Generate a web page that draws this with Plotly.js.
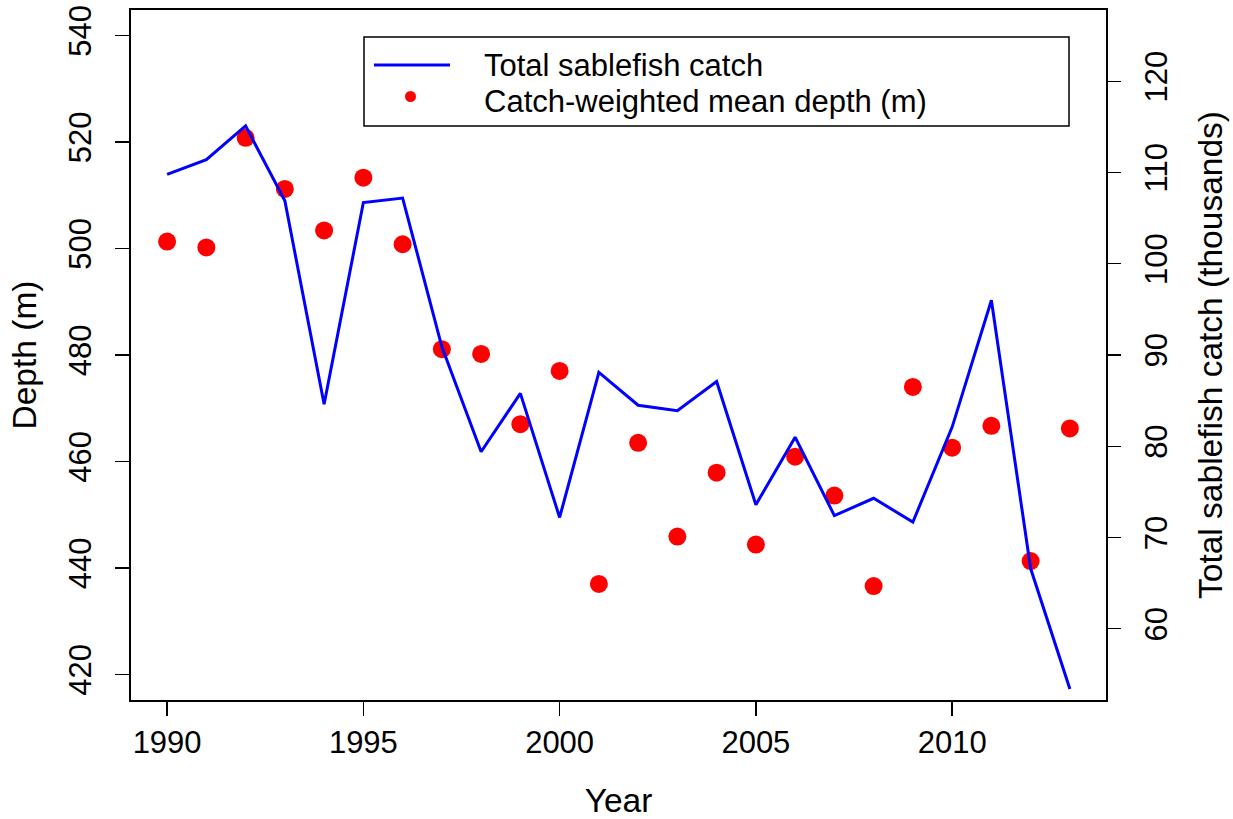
<!DOCTYPE html>
<html>
<head>
<meta charset="utf-8">
<script src="https://cdn.plot.ly/plotly-3.0.1.min.js"></script>
<style>
  html, body { margin: 0; padding: 0; background: #fff; }
  #chart { width: 1233px; height: 819px; }
</style>
</head>
<body>
<div id="chart"></div>
<script>
// Sablefish survey summary, 1990-2013
const years = [1990, 1991, 1992, 1993, 1994, 1995, 1996, 1997, 1998, 1999, 2000, 2001,
               2002, 2003, 2004, 2005, 2006, 2007, 2008, 2009, 2010, 2011, 2012, 2013];

// Catch-weighted mean depth (m), left axis
const meanDepth = [501.3, 500.2, 520.8, 511.2, 503.4, 513.3, 500.8, 481.1, 480.2, 467.0, 477.0, 437.0,
                   463.5, 445.9, 457.9, 444.4, 460.9, 453.6, 436.6, 474.0, 462.6, 466.7, 441.3, 466.2];

// Total sablefish catch (thousands), right axis
const totalCatch = [109.8, 111.4, 115.1, 106.9, 84.6, 106.7, 107.2, 90.9, 79.4, 85.8, 72.2, 88.1,
                    84.5, 83.9, 87.1, 73.6, 81.0, 72.4, 74.3, 71.7, 82.1, 96.0, 66.6, 53.4];

const yearTicks = [1990, 1995, 2000, 2005, 2010];
const depthTicks = [420, 440, 460, 480, 500, 520, 540];
const catchTicks = [60, 70, 80, 90, 100, 110, 120];

const legendLabels = ['Total sablefish catch', 'Catch-weighted mean depth (m)'];

const FONT = '"Liberation Sans", Arial, Helvetica, sans-serif';
const W = 1233, H = 819;
const M = { l: 131, r: 127, t: 10, b: 119 };
const plotW = W - M.l - M.r, plotH = H - M.t - M.b;

// pixel -> paper helpers for the hand-built legend box
const px = x => (x - M.l) / plotW;
const py = y => (H - M.b - y) / plotH;

// R-style 4% padding around the axis limits
const pad = (lo, hi) => [lo - 0.04 * (hi - lo), hi + 0.04 * (hi - lo)];

const traces = [
  {
    x: years, y: totalCatch, yaxis: 'y2', type: 'scatter', mode: 'lines',
    name: legendLabels[0], showlegend: false,
    line: { color: '#0000ff', width: 3 }, hoverinfo: 'x+y'
  },
  {
    x: years, y: meanDepth, yaxis: 'y', type: 'scatter', mode: 'markers',
    name: legendLabels[1], showlegend: false,
    marker: { color: '#ff0000', size: 18 }, hoverinfo: 'x+y'
  }
];

const TICK_SIZE = 31, TITLE_SIZE = 33.5, LEGEND_SIZE = 31;

const axisCommon = {
  ticks: 'outside', ticklen: 14, tickwidth: 1.3, tickcolor: '#000',
  showgrid: false, zeroline: false, automargin: false,
  tickfont: { family: FONT, size: TICK_SIZE, color: '#000' }
};

const layout = {
  width: W, height: H,
  margin: M,
  paper_bgcolor: '#fff', plot_bgcolor: '#fff',
  showlegend: false,
  font: { family: FONT, color: '#000' },
  xaxis: Object.assign({}, axisCommon, {
    range: pad(1990, 2013),
    tickmode: 'array', tickvals: yearTicks, ticktext: yearTicks.map(String),
    showline: true, linewidth: 2, linecolor: '#000', mirror: true,
    ticklabelstandoff: 0,
    title: { text: 'Year', font: { family: FONT, size: TITLE_SIZE, color: '#000' }, standoff: 33 }
  }),
  yaxis: Object.assign({}, axisCommon, {
    range: pad(420, 540),
    tickmode: 'array', tickvals: depthTicks, ticktext: depthTicks.map(String),
    tickangle: -90, ticklabelstandoff: 12,
    showline: true, linewidth: 2, linecolor: '#000', mirror: true,
    title: { text: 'Depth (m)', font: { family: FONT, size: TITLE_SIZE, color: '#000' }, standoff: 16 }
  }),
  yaxis2: Object.assign({}, axisCommon, {
    overlaying: 'y', side: 'right',
    range: pad(55, 125),
    tickmode: 'array', tickvals: catchTicks, ticktext: catchTicks.map(String),
    tickangle: -90, ticklabelstandoff: 9, showline: false,
    title: { text: 'Total sablefish catch (thousands)', font: { family: FONT, size: TITLE_SIZE, color: '#000' }, standoff: 25 }
  }),
  shapes: [
    // legend frame
    { type: 'rect', xref: 'paper', yref: 'paper',
      x0: px(364), x1: px(1069), y0: py(126), y1: py(37),
      line: { color: '#000', width: 1.5 }, fillcolor: '#fff', layer: 'above' },
    // line sample
    { type: 'line', xref: 'paper', yref: 'paper',
      x0: px(374), x1: px(450), y0: py(65), y1: py(65),
      line: { color: '#0000ff', width: 3 }, layer: 'above' },
    // dot sample
    { type: 'circle', xref: 'paper', yref: 'paper',
      x0: px(405), x1: px(416), y0: py(102), y1: py(91),
      line: { color: '#ff0000', width: 0 }, fillcolor: '#ff0000', layer: 'above' }
  ],
  annotations: [
    { xref: 'paper', yref: 'paper', x: px(482), y: py(65.5), xanchor: 'left', yanchor: 'middle',
      text: legendLabels[0], showarrow: false, font: { family: FONT, size: LEGEND_SIZE, color: '#000' } },
    { xref: 'paper', yref: 'paper', x: px(482), y: py(101.5), xanchor: 'left', yanchor: 'middle',
      text: legendLabels[1], showarrow: false, font: { family: FONT, size: LEGEND_SIZE, color: '#000' } }
  ]
};

Plotly.newPlot('chart', traces, layout, { displayModeBar: false, staticPlot: true });
</script>
</body>
</html>
